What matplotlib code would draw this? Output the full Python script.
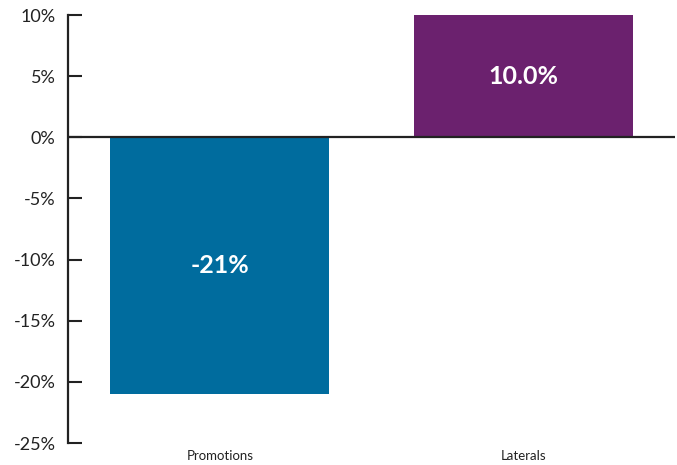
import matplotlib
matplotlib.use("Agg")
import matplotlib.pyplot as plt

categories = ["Promotions", "Laterals"]
values = [-21.0, 10.0]
labels = ["-21%", "10.0%"]
colors = ["#006C9E", "#6B216E"]
yticks = [10, 5, 0, -5, -10, -15, -20, -25]
ytick_labels = ["10%", "5%", "0%", "-5%", "-10%", "-15%", "-20%", "-25%"]

plt.rcParams['font.family'] = ['Lato', 'DejaVu Sans']

fig = plt.figure(figsize=(6.77, 4.65), dpi=100)
ax = fig.add_axes([68/677, 1-443/465, (675-68)/677, (443-15)/465])

x = list(range(len(categories)))
ax.bar(x, values, width=0.72, color=colors, zorder=2)
ax.axhline(0, color="#222222", lw=1.6, zorder=3)

for xi, v, lab in zip(x, values, labels):
    ax.text(xi, v/2, lab, ha="center", va="center", color="white",
            fontsize=18, fontweight="bold", zorder=4)

ax.set_xlim(-0.5, 1.5)
ax.set_ylim(-25, 10)
ax.set_yticks(yticks)
ax.set_yticklabels(ytick_labels, fontsize=13, color="#222222")
ax.set_xticks(x)
ax.set_xticklabels(categories, fontsize=9.5, color="#222222")
ax.tick_params(axis="x", length=0, pad=5)
ax.tick_params(axis="y", direction="in", length=10, width=1.5, color="#222222", pad=9)

for s in ["top", "right", "bottom"]:
    ax.spines[s].set_visible(False)
ax.spines["left"].set_linewidth(1.6)
ax.spines["left"].set_color("#222222")

fig.savefig("out.png", dpi=100)
